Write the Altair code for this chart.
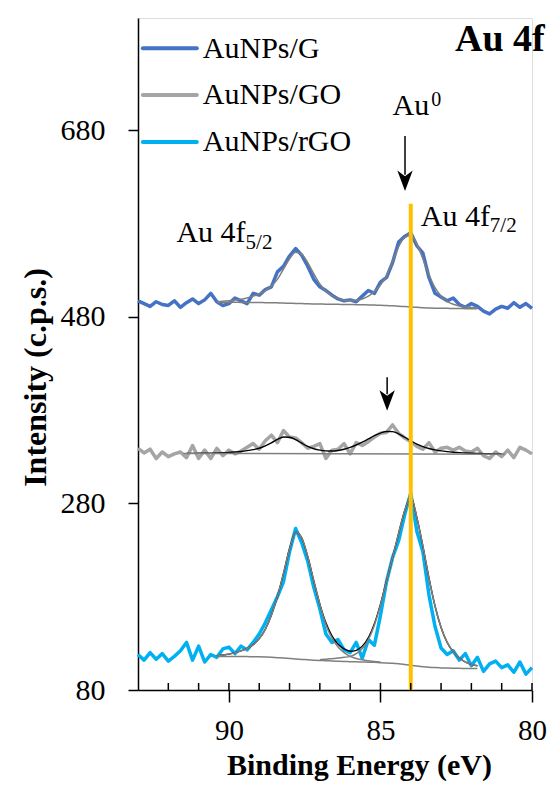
import altair as alt
import pandas as pd

SERIF = "Liberation Serif"
STEP = 0.2

# ---------------- data ----------------
series_names = ["AuNPs/G", "AuNPs/GO", "AuNPs/rGO"]
series_colors = ["#4472C4", "#A5A5A5", "#00B0F0"]

# spectra, 93.0 eV -> 80.0 eV every 0.2 eV
spec_start = 93.0
g_counts = [497, 494, 491, 496, 493, 492, 497, 490, 495, 499,
            494, 498, 505, 496, 492, 494, 500, 497, 494, 505,
            503, 509, 512, 528, 534, 545, 553, 546, 534, 520,
            512, 508, 503, 499, 497, 498, 496, 502, 508, 505,
            517, 522, 538, 560, 566, 570, 556, 548, 522, 505,
            501, 497, 500, 493, 490, 494, 491, 486, 483, 488,
            491, 489, 495, 490, 494, 489]
go_counts = [339, 334, 338, 328, 335, 330, 333, 335, 329, 342,
             328, 337, 328, 339, 331, 337, 333, 336, 340, 344,
             338, 347, 353, 345, 358, 351, 350, 345, 339, 341,
             344, 328, 337, 338, 344, 333, 345, 342, 346, 351,
             355, 356, 364, 355, 350, 346, 341, 338, 345, 335,
             339, 340, 337, 340, 336, 335, 339, 331, 328, 335,
             330, 337, 329, 340, 337, 333]
rgo_counts = [118, 112, 120, 113, 119, 111, 116, 122, 131, 112,
              127, 110, 118, 115, 124, 126, 119, 127, 123, 131,
              140, 152, 166, 180, 196, 228, 253, 238, 218, 190,
              167, 140, 131, 134, 123, 120, 131, 114, 134, 128,
              160, 196, 222, 240, 268, 291, 250, 228, 182, 148,
              125, 118, 122, 112, 119, 106, 115, 100, 108, 111,
              104, 107, 99, 110, 97, 104]

# fitted curves (90.4 eV -> 81.8 eV every 0.2 eV unless noted)
fit_start = 90.4
g_bg = [495.5, 495.5, 495.4, 495.4, 495.3, 495.3, 495.2, 495.1, 495.0, 494.9,
        494.8, 494.6, 494.4, 494.2, 494.0, 493.8, 493.6, 493.5, 493.4, 493.3,
        493.2, 493.1, 493.0, 492.9, 492.8, 492.6, 492.4, 492.2, 491.9, 491.6,
        491.2, 490.8, 490.4, 490.0, 489.6, 489.3, 489.1, 489.0, 488.9, 488.8,
        488.7, 488.6, 488.5, 488.5]
g_env = [496, 496.5, 497, 497.8, 498.8, 500, 502, 504.5, 508, 513,
         520, 531, 542, 549, 547, 538, 526, 515, 507.5, 502.5,
         499.5, 497.8, 497.2, 497.6, 499, 502, 507, 514, 524, 539,
         555, 565, 567, 558, 542, 525, 511, 502, 496.5, 493.3,
         491.5, 490.5, 489.8, 489.3]
rgo_bg = [116, 116, 116, 116, 116, 115.8, 115.7, 115.5, 115.3, 115,
          114.6, 114.2, 113.7, 113.2, 112.8, 112.4, 112, 111.7, 111.4, 111.1,
          110.8, 110.6, 110.4, 110.2, 110, 109.8, 109.6, 109.3, 109, 108.6,
          108, 107.3, 106.5, 105.7, 105, 104.4, 104, 103.7, 103.5, 103.3,
          103.2, 103.1, 103, 103]
rgo_env = [116.5, 117.5, 118.5, 120, 122, 124.5, 128.5, 135, 145, 160,
           180, 205, 231, 249, 243, 223, 197, 172, 152, 138,
           129, 124, 121.5, 122.5, 127, 136, 151, 172, 197, 222,
           248, 272, 287, 265, 234, 200, 170, 147, 131, 121,
           114.5, 110, 107.5, 106]
rgo_c1 = [116.5, 117.5, 118.5, 120, 122, 124.5, 128.5, 135, 145, 160,
          180, 205, 231, 249, 243, 223, 197, 172, 150, 135.5,
          126, 120, 116, 113.8, 112.3, 111.3, 110.5, 110]          # from 90.4
rgo_c2_start = 87.0
rgo_c2 = [112.5, 113, 113.6, 114.2, 115, 116, 119, 124.5, 134, 149.5,
          171, 197, 222, 248, 272, 287, 265, 234, 200, 170,
          147, 131, 121, 114.5, 110, 107.5, 106]                   # from 87.0
go_env_start = 91.4
go_env = [333.5, 333.5, 333.6, 333.7, 333.8, 334, 334.2, 334.5, 335, 335.6,
          336.5, 337.6, 339, 341.5, 344.8, 348.5, 351, 350.8, 348.2, 344.5,
          341, 338.5, 337, 336.2, 336, 336.6, 338, 340, 342.5, 345.5,
          349, 352.5, 355.3, 357, 356.8, 354.5, 350.8, 347, 343.5, 340.8,
          338.8, 337.3, 336.2, 335.4, 334.8, 334.3, 334, 333.7, 333.5, 333.3,
          333.1, 333, 332.9]
go_bg_E = [91.5, 80.9]
go_bg_I = [333.5, 332.5]

# reference line / ticks / arrows
au0_E = [84.0]
au0_I = [80.0]
au0_I2 = [601.0]
minor_E = [80, 81, 82, 83, 84, 85, 86, 87, 88, 89, 90, 91, 92]
arrow_E = [84.19, 84.78]
arrow_top = [673.6, 415.0]
arrow_bot = [632.0, 397.0]
arrow_head = [625.5, 390.2]

# texts
ann_text = ["Au 4f", "Au 4f", "Au"]
ann_E = [89.45, 81.39, 83.39]
ann_I = [560.2, 577.3, 696.0]
sub_text = ["5/2", "7/2"]
sub_E = [89.45, 81.39]
sub_I = [552.7, 570.2]
sup_text = ["0"]
sup_E = [83.39]
sup_I = [705.7]
title_text = ["Au 4f"]
title_E = [79.58]
title_I = [764.5]

leg_E1 = [92.84, 92.84, 92.84]
leg_E2 = [91.06, 91.06, 91.06]
leg_line_I = [767.7, 717.4, 667.1]
leg_text_E = [90.86, 90.86, 90.86]
leg_text_I = [757.0, 707.8, 657.5]


def energies(start, n):
    return [round(start - STEP * i, 2) for i in range(n)]


# ---------------- frames ----------------
spec = pd.concat([
    pd.DataFrame({"E": energies(spec_start, len(v)), "I": v, "series": n})
    for n, v in zip(series_names, [g_counts, go_counts, rgo_counts])
])

gray_curves = [
    ("g_bg", energies(fit_start, len(g_bg)), g_bg),
    ("g_env", energies(fit_start, len(g_env)), g_env),
    ("rgo_bg", energies(fit_start, len(rgo_bg)), rgo_bg),
    ("rgo_c1", energies(fit_start, len(rgo_c1)), rgo_c1),
    ("rgo_c2", energies(rgo_c2_start, len(rgo_c2)), rgo_c2),
    ("go_bg", go_bg_E, go_bg_I),
]
black_curves = [
    ("rgo_env", energies(fit_start, len(rgo_env)), rgo_env),
    ("go_env", energies(go_env_start, len(go_env)), go_env),
]
fit_gray = pd.concat([pd.DataFrame({"E": e, "I": i, "curve": c}) for c, e, i in gray_curves])
fit_black = pd.concat([pd.DataFrame({"E": e, "I": i, "curve": c}) for c, e, i in black_curves])

vline = pd.DataFrame({"E": au0_E, "I": au0_I, "I2": au0_I2})
minor = pd.DataFrame({"E": minor_E, "I": [80.0] * len(minor_E), "I2": [87.5] * len(minor_E)})
arrows = pd.DataFrame({"E": arrow_E, "I": arrow_top, "I2": arrow_bot, "H": arrow_head})
ann = pd.DataFrame({"E": ann_E, "I": ann_I, "t": ann_text})
sub = pd.DataFrame({"E": sub_E, "I": sub_I, "t": sub_text})
sup = pd.DataFrame({"E": sup_E, "I": sup_I, "t": sup_text})
ttl = pd.DataFrame({"E": title_E, "I": title_I, "t": title_text})
leg = pd.DataFrame({"E": leg_E1, "E2": leg_E2, "I": leg_line_I, "series": series_names})
legt = pd.DataFrame({"E": leg_text_E, "I": leg_text_I, "t": series_names})

# ---------------- scales / axes ----------------
XS = alt.Scale(domain=[80, 93], reverse=True, nice=False, zero=False)
YS = alt.Scale(domain=[80, 800], nice=False, zero=False)
x_axis = alt.Axis(values=[90, 85, 80], format="d", tickSize=12, tickWidth=1.5,
                  tickColor="black", domainColor="black", domainWidth=1.5,
                  labelFont=SERIF, labelFontSize=29, labelColor="black",
                  labelPadding=14, labelFlush=False, grid=False,
                  title="Binding Energy (eV)", titleFont=SERIF, titleFontSize=30,
                  titleFontWeight="bold", titleColor="black", titleX=221, titleY=84,
                  titleAlign="center", titleBaseline="alphabetic")
y_axis = alt.Axis(values=[80, 280, 480, 680], format="d", tickSize=10, tickWidth=1.5,
                  tickColor="black", domainColor="black", domainWidth=1.5,
                  labelFont=SERIF, labelFontSize=30, labelColor="black",
                  labelPadding=23, labelFlush=False, grid=False,
                  title="Intensity (c.p.s.)", titleFont=SERIF, titleFontSize=32,
                  titleFontWeight="bold", titleColor="black", titleX=-103, titleY=359,
                  titleAngle=270, titleAlign="center", titleBaseline="middle")


def X(f="E"):
    return alt.X(f"{f}:Q", scale=XS, axis=x_axis)


def Y(f="I"):
    return alt.Y(f"{f}:Q", scale=YS, axis=y_axis)


color = alt.Color("series:N", scale=alt.Scale(domain=series_names, range=series_colors), legend=None)

# ---------------- layers ----------------
spectra = alt.Chart(spec).mark_line(strokeWidth=3.5, strokeJoin="round").encode(
    x=X(), y=Y(), color=color, order=alt.Order("E:Q", sort="descending"))
black_fit = alt.Chart(fit_black).mark_line(color="black", strokeWidth=1.4, interpolate="monotone").encode(
    x=X(), y=Y(), detail="curve:N")
gray_fit = alt.Chart(fit_gray).mark_line(color="#7F7F7F", strokeWidth=1.5, interpolate="monotone").encode(
    x=X(), y=Y(), detail="curve:N")
orange = alt.Chart(vline).mark_rule(color="#FFC000", strokeWidth=4).encode(
    x=X(), y=Y(), y2="I2:Q")
minor_ticks = alt.Chart(minor).mark_rule(color="black", strokeWidth=1.5).encode(
    x=X(), y=Y(), y2="I2:Q")
shafts = alt.Chart(arrows).mark_rule(color="black", strokeWidth=1.5).encode(
    x=X(), y=Y(), y2="I2:Q")
heads = alt.Chart(arrows).mark_point(shape="M-0.75,-1L0,-0.45L0.75,-1L0,1Z", size=420,
                                     filled=True, color="black", opacity=1, strokeWidth=0).encode(
    x=X(), y=Y("H"))
ann_l = alt.Chart(ann).mark_text(font=SERIF, fontSize=30, align="right", baseline="alphabetic",
                                 color="black").encode(x=X(), y=Y(), text="t:N")
sub_l = alt.Chart(sub).mark_text(font=SERIF, fontSize=21, align="left", baseline="alphabetic",
                                 color="black").encode(x=X(), y=Y(), text="t:N")
sup_l = alt.Chart(sup).mark_text(font=SERIF, fontSize=20, align="left", baseline="alphabetic",
                                 color="black", dx=2).encode(x=X(), y=Y(), text="t:N")
ttl_l = alt.Chart(ttl).mark_text(font=SERIF, fontSize=38, fontWeight="bold", align="right",
                                 baseline="alphabetic", color="black").encode(x=X(), y=Y(), text="t:N")
leg_lines = alt.Chart(leg).mark_rule(strokeWidth=4, strokeCap="round").encode(
    x=X(), x2="E2:Q", y=Y(), color=color)
leg_text = alt.Chart(legt).mark_text(font=SERIF, fontSize=30, align="left", baseline="alphabetic",
                                     color="black").encode(x=X(), y=Y(), text="t:N")

chart = alt.layer(
    spectra, black_fit, gray_fit, orange, minor_ticks, shafts, heads,
    ann_l, sub_l, sup_l, ttl_l, leg_lines, leg_text
).properties(
    width=394, height=672,
    padding={"left": 130, "top": 10, "right": 15, "bottom": 92},
    autosize=alt.AutoSizeParams(type="none"),
).configure_view(stroke=None).configure(background="white")

chart.save("out.html", embed_options={"renderer": "svg", "actions": False})
